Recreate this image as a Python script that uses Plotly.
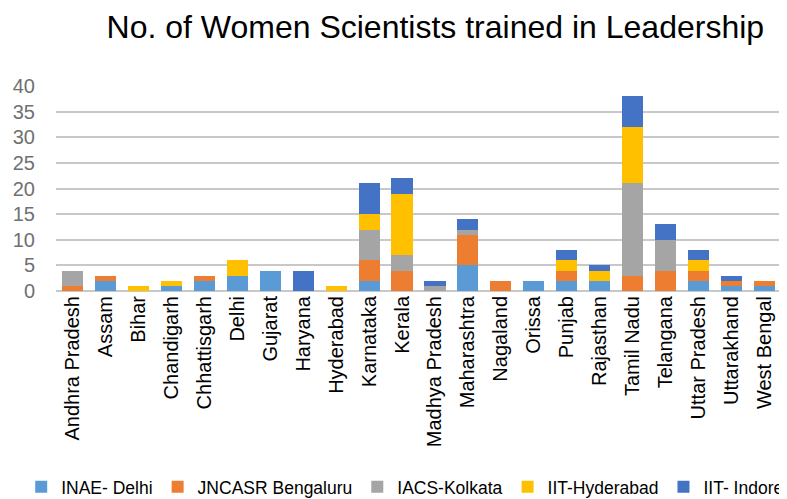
import plotly.graph_objects as go

states = ["Andhra Pradesh", "Assam", "Bihar", "Chandigarh", "Chhattisgarh", "Delhi",
          "Gujarat", "Haryana", "Hyderabad", "Karnataka", "Kerala", "Madhya Pradesh",
          "Maharashtra", "Nagaland", "Orissa", "Punjab", "Rajasthan", "Tamil Nadu",
          "Telangana", "Uttar Pradesh", "Uttarakhand", "West Bengal"]

inae_delhi       = [0, 2, 0, 1, 2, 3, 4, 0, 0, 2, 0, 0, 5, 0, 2, 2, 2, 0, 0, 2, 1, 1]
jncasr_bengaluru = [1, 1, 0, 0, 1, 0, 0, 0, 0, 4, 4, 0, 6, 2, 0, 2, 0, 3, 4, 2, 1, 1]
iacs_kolkata     = [3, 0, 0, 0, 0, 0, 0, 0, 0, 6, 3, 1, 1, 0, 0, 0, 0, 18, 6, 0, 0, 0]
iit_hyderabad    = [0, 0, 1, 1, 0, 3, 0, 0, 1, 3, 12, 0, 0, 0, 0, 2, 2, 11, 0, 2, 0, 0]
iit_indore       = [0, 0, 0, 0, 0, 0, 0, 4, 0, 6, 3, 1, 2, 0, 0, 2, 1, 6, 3, 2, 1, 0]

series = [
    ("INAE- Delhi", inae_delhi, "#5B9BD5"),
    ("JNCASR Bengaluru", jncasr_bengaluru, "#ED7D31"),
    ("IACS-Kolkata", iacs_kolkata, "#A5A5A5"),
    ("IIT-Hyderabad", iit_hyderabad, "#FFC000"),
    ("IIT- Indore", iit_indore, "#4472C4"),
]

fig = go.Figure()
for name, vals, col in series:
    fig.add_trace(go.Bar(
        x=states, y=vals, name=name,
        marker=dict(color=col, line=dict(width=0)),
        width=0.64,
    ))

fig.update_layout(
    barmode="stack",
    width=787, height=499,
    paper_bgcolor="white", plot_bgcolor="white",
    font=dict(family="Liberation Sans, Arial, sans-serif", color="#000000"),
    title=dict(text="No. of Women Scientists trained in Leadership",
               x=0.543, xanchor="center", y=0.962, yanchor="middle",
               font=dict(size=32, color="#000000")),
    margin=dict(l=48, r=14, t=78, b=216, autoexpand=False),
    xaxis=dict(showgrid=False, tickangle=-90, tickfont=dict(size=20, color="#000000"),
               showline=False, ticks="", range=[-0.5, 21.5], automargin=False),
    yaxis=dict(range=[0, 40], dtick=5, showgrid=True, gridcolor="#C8C8C8", gridwidth=2,
               tickfont=dict(size=20, color="#707070"), zeroline=True,
               zerolinecolor="#C8C8C8", zerolinewidth=2, ticklabelstandoff=20,
               automargin=False),
    legend=dict(orientation="h", x=-0.048, xanchor="left", y=-0.956, yanchor="middle",
                bgcolor="rgba(0,0,0,0)",
                font=dict(size=17.5, color="#000000"),
                itemwidth=30, traceorder="normal", tracegroupgap=0),
    bargap=0.4,
)

fig.write_html("out.html")
